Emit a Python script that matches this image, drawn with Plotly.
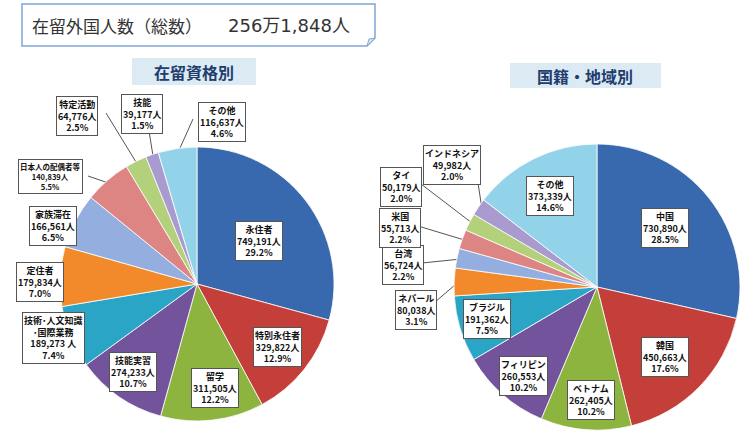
import math
import plotly.graph_objects as go

W, H = 750, 435

# ---------------- data ----------------
status_labels = ["永住者", "特別永住者", "留学", "技能実習", "技術・人文知識・国際業務",
                 "定住者", "家族滞在", "日本人の配偶者等", "特定活動", "技能", "その他"]
status_box_names = ["永住者", "特別永住者", "留学", "技能実習", "技術･人文知識<br>･国際業務",
                    "定住者", "家族滞在", "日本人の配偶者等", "特定活動", "技能", "その他"]
status_values = [749191, 329822, 311505, 274233, 189273, 179834, 166561, 140839, 64776, 39177, 116637]

nat_labels = ["中国", "韓国", "ベトナム", "フィリピン", "ブラジル", "ネパール",
              "台湾", "米国", "タイ", "インドネシア", "その他"]
nat_values = [730890, 450663, 262405, 260553, 191362, 80038, 56724, 55713, 50179, 49982, 373339]

title_main = "在留外国人数（総数）"
title_total = "256万1,848人"
subtitle_left = "在留資格別"
subtitle_right = "国籍・地域別"

palette = ["#3868ad", "#c43e3a", "#8db43f", "#73539c", "#2ba5c6", "#f28a2b",
           "#94afdf", "#dc8583", "#b3d07a", "#a99ad0", "#92d3ea"]

FONT = "Noto Sans CJK JP"

# ---------------- geometry (pixels) ----------------
L_CX, L_CY, L_R = 197, 284, 137
R_CX, R_CY, R_R = 597, 287, 143


def px(x):
    return x / W


def py(y):
    return 1 - y / H


def domain(cx, cy, r):
    return dict(x=[px(cx - r), px(cx + r)], y=[py(cy + r), py(cy - r)])


fig = go.Figure()
fig.add_trace(go.Pie(
    labels=status_labels, values=status_values, sort=False, direction="clockwise",
    rotation=0, textinfo="none", hoverinfo="label+value+percent",
    marker=dict(colors=palette, line=dict(color="rgba(255,255,255,0.8)", width=1)),
    domain=domain(L_CX, L_CY, L_R), showlegend=False))
fig.add_trace(go.Pie(
    labels=nat_labels, values=nat_values, sort=False, direction="clockwise",
    rotation=0, textinfo="none", hoverinfo="label+value+percent",
    marker=dict(colors=palette, line=dict(color="rgba(255,255,255,0.8)", width=1)),
    domain=domain(R_CX, R_CY, R_R), showlegend=False))


def edge_point(values, idx, cx, cy, r, f=0.97):
    total = sum(values)
    start = sum(values[:idx]) / total
    mid = (start + values[idx] / total / 2) * 2 * math.pi
    return cx + r * f * math.sin(mid), cy - r * f * math.cos(mid)


annotations = []
shapes = []


def box_text(name, v, total, space=False):
    num = f"{v:,}" + (" 人" if space else "人")
    return f"<b>{name}<br>{num}<br>{v / total * 100:.1f}%</b>"


# label box centres (pixels) for the status pie
status_pos = [(259, 241), (277, 347), (215, 388), (133, 372), (53, 338),
              (40, 282), (53, 226), (50, 176), (77, 116), (142, 114), (222, 122)]
status_leaders = {7: (88, 176), 8: (106, 113), 9: (149, 131), 10: (193, 119)}

tot_s = sum(status_values)
for i, (name, v) in enumerate(zip(status_box_names, status_values)):
    x, y = status_pos[i]
    size = 7.5 if i == 7 else 9
    annotations.append(dict(
        x=px(x), y=py(y), xref="paper", yref="paper", xanchor="center", yanchor="middle",
        text=box_text(name, v, tot_s, space=(i == 4)), showarrow=False,
        font=dict(family=FONT, size=size, color="#111"), align="center",
        bgcolor="white", bordercolor="#555", borderwidth=1, borderpad=1))
    if i in status_leaders:
        ex, ey = edge_point(status_values, i, L_CX, L_CY, L_R)
        lx, ly = status_leaders[i]
        shapes.append(dict(type="line", xref="paper", yref="paper",
                           x0=px(lx), y0=py(ly), x1=px(ex), y1=py(ey),
                           line=dict(color="#555", width=1), layer="below"))

nat_pos = [(665, 228), (665, 357), (591, 400), (523, 376), (487, 319), (416, 310),
           (403, 265), (400, 228), (401, 187), (452, 165), (550, 196)]
nat_leaders = {5: (435, 302), 6: (422, 263), 7: (418, 226), 8: (421, 184), 9: (478, 183)}

tot_n = sum(nat_values)
for i, (name, v) in enumerate(zip(nat_labels, nat_values)):
    x, y = nat_pos[i]
    annotations.append(dict(
        x=px(x), y=py(y), xref="paper", yref="paper", xanchor="center", yanchor="middle",
        text=box_text(name, v, tot_n), showarrow=False,
        font=dict(family=FONT, size=9, color="#111"), align="center",
        bgcolor="white", bordercolor="#555", borderwidth=1, borderpad=1))
    if i in nat_leaders:
        ex, ey = edge_point(nat_values, i, R_CX, R_CY, R_R)
        lx, ly = nat_leaders[i]
        shapes.append(dict(type="line", xref="paper", yref="paper",
                           x0=px(lx), y0=py(ly), x1=px(ex), y1=py(ey),
                           line=dict(color="#555", width=1), layer="below"))

# title box with folded corner
shapes.append(dict(type="path", xref="paper", yref="paper",
                   path=f"M {px(22)} {py(4)} L {px(375)} {py(4)} L {px(375)} {py(38)} "
                        f"L {px(367)} {py(46)} L {px(22)} {py(46)} Z",
                   line=dict(color="#7fa6d6", width=1.5), fillcolor="white"))
shapes.append(dict(type="path", xref="paper", yref="paper",
                   path=f"M {px(367)} {py(46)} L {px(369)} {py(39)} L {px(375)} {py(38)} Z",
                   line=dict(color="#7fa6d6", width=1), fillcolor="#dbe6f4"))
annotations.append(dict(x=px(30), y=py(25), xref="paper", yref="paper",
                        xanchor="left", yanchor="middle", text=title_main, showarrow=False,
                        font=dict(family=FONT, size=17, color="#333")))
annotations.append(dict(x=px(352), y=py(25), xref="paper", yref="paper",
                        xanchor="right", yanchor="middle", text=title_total, showarrow=False,
                        font=dict(family="DejaVu Sans, " + FONT, size=18, color="#333")))

# subtitles
shapes.append(dict(type="rect", xref="paper", yref="paper",
                   x0=px(132), x1=px(256), y0=py(85), y1=py(58),
                   line=dict(width=0), fillcolor="#dbeaf3"))
shapes.append(dict(type="rect", xref="paper", yref="paper",
                   x0=px(510), x1=px(661), y0=py(88), y1=py(63),
                   line=dict(width=0), fillcolor="#dbeaf3"))
annotations.append(dict(x=px(194), y=py(72), xref="paper", yref="paper",
                        xanchor="center", yanchor="middle", text=f"<b>{subtitle_left}</b>",
                        showarrow=False, font=dict(family=FONT, size=16, color="#1f3d6d")))
annotations.append(dict(x=px(585), y=py(76), xref="paper", yref="paper",
                        xanchor="center", yanchor="middle", text=f"<b>{subtitle_right}</b>",
                        showarrow=False, font=dict(family=FONT, size=16, color="#1f3d6d")))

fig.update_layout(width=W, height=H, margin=dict(l=0, r=0, t=0, b=0),
                  paper_bgcolor="white", plot_bgcolor="white",
                  annotations=annotations, shapes=shapes)

fig.write_html("out.html")
